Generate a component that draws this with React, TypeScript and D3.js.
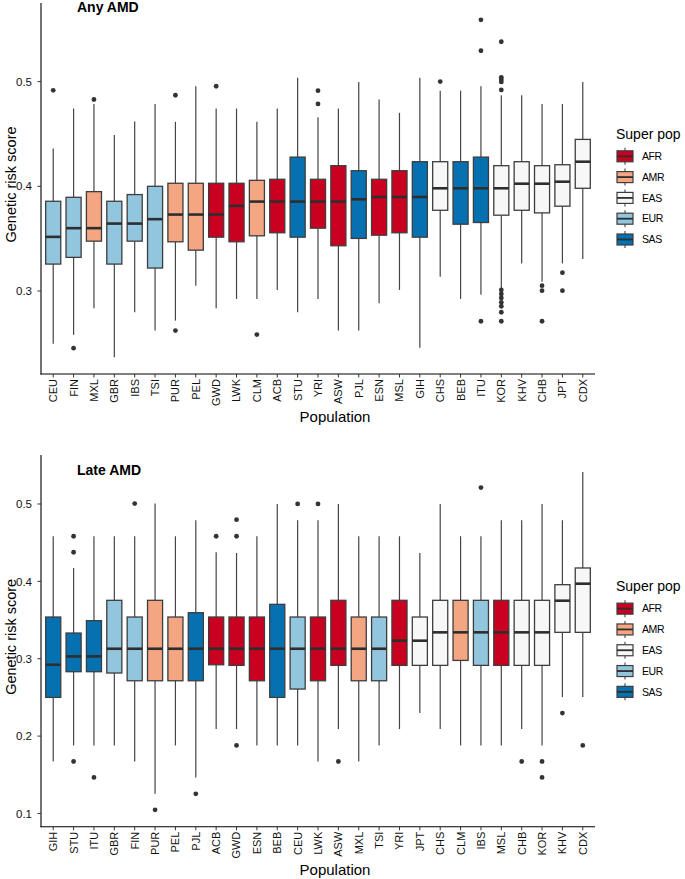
import React from "react";
import * as d3 from "d3";

// ---------- Data: Any AMD ----------
const anyCategories = ["CEU","FIN","MXL","GBR","IBS","TSI","PUR","PEL","GWD","LWK","CLM","ACB","STU","YRI","ASW","PJL","ESN","MSL","GIH","CHS","BEB","ITU","KOR","KHV","CHB","JPT","CDX"];
const anySuper = ["EUR","EUR","AMR","EUR","EUR","EUR","AMR","AMR","AFR","AFR","AMR","AFR","SAS","AFR","AFR","SAS","AFR","AFR","SAS","EAS","SAS","SAS","EAS","EAS","EAS","EAS","EAS"];
const anyLow = [0.2495,0.2581,0.2835,0.2368,0.2797,0.2622,0.2717,0.3051,0.2835,0.2924,0.2924,0.301,0.2797,0.2924,0.2622,0.2622,0.2883,0.301,0.2457,0.3137,0.2924,0.2965,0.3019,0.3263,0.3089,0.3263,0.3305];
const anyQ1 = [0.3257,0.3321,0.3476,0.3257,0.3476,0.3219,0.347,0.339,0.3514,0.347,0.3527,0.3556,0.3514,0.36,0.3432,0.3502,0.3533,0.3556,0.3514,0.3771,0.3638,0.3654,0.3724,0.3771,0.3746,0.381,0.3981];
const anyMed = [0.3517,0.36,0.36,0.3644,0.3644,0.3686,0.373,0.373,0.373,0.3813,0.3854,0.3854,0.3854,0.3854,0.3854,0.3876,0.3898,0.3898,0.3898,0.3981,0.3981,0.3981,0.3981,0.4025,0.4025,0.4044,0.4235];
const anyQ3 = [0.3857,0.3895,0.3949,0.3857,0.3921,0.4,0.4029,0.4029,0.4029,0.4029,0.4057,0.4067,0.4279,0.4067,0.4197,0.4149,0.4067,0.4149,0.4235,0.4235,0.4235,0.4279,0.4197,0.4235,0.4197,0.4206,0.4448];
const anyHigh = [0.4362,0.4743,0.4787,0.4489,0.4619,0.4787,0.4616,0.4956,0.4743,0.4743,0.4616,0.4743,0.5038,0.466,0.4743,0.4997,0.4829,0.4702,0.5038,0.4914,0.4914,0.4956,0.487,0.487,0.4787,0.4787,0.4997];
const anyOutliers = [[0.4917],[0.2454],[0.4829],[],[],[],[0.487,0.2622],[],[0.4956],[],[0.2584],[],[],[0.4914,0.4787],[],[],[],[],[],[0.5],[],[0.559,0.5295,0.2711],[0.5381,0.5041,0.5019,0.4997,0.4921,0.301,0.2971,0.2933,0.2892,0.2854,0.2797,0.2711],[],[0.3051,0.3003,0.2711],[0.3175,0.3003],[]];

// ---------- Data: Late AMD ----------
const lateCategories = ["GIH","STU","ITU","GBR","FIN","PUR","PEL","PJL","ACB","GWD","ESN","BEB","CEU","LWK","ASW","MXL","TSI","YRI","JPT","CHS","CLM","IBS","MSL","CHB","KOR","KHV","CDX"];
const lateSuper = ["SAS","SAS","SAS","EUR","EUR","AMR","AMR","SAS","AFR","AFR","AFR","SAS","EUR","AFR","AFR","AMR","EUR","AFR","EAS","EAS","AMR","EUR","AFR","EAS","EAS","EAS","EAS"];
const lateLow = [0.1672,0.1879,0.1879,0.1879,0.1672,0.1254,0.1879,0.1465,0.209,0.209,0.1879,0.1879,0.1879,0.1672,0.209,0.1672,0.1879,0.209,0.2297,0.209,0.1879,0.1879,0.1879,0.209,0.1879,0.2504,0.2504];
const lateQ1 = [0.25,0.2832,0.2832,0.2815,0.2715,0.2715,0.2715,0.2715,0.2922,0.2914,0.2715,0.25,0.2608,0.2715,0.2914,0.2715,0.2715,0.2914,0.2914,0.2914,0.2978,0.2914,0.2914,0.2914,0.2914,0.3341,0.3341];
const lateMed = [0.2922,0.303,0.303,0.3129,0.3129,0.3129,0.3129,0.3129,0.3129,0.3129,0.3129,0.3129,0.3129,0.3129,0.3129,0.3129,0.3129,0.3233,0.3233,0.3341,0.3341,0.3341,0.3341,0.3341,0.3341,0.375,0.397];
const lateQ3 = [0.3539,0.3332,0.3492,0.3755,0.3539,0.3755,0.3539,0.3595,0.3539,0.3539,0.3539,0.3703,0.3539,0.3539,0.3755,0.3539,0.3539,0.3755,0.3539,0.3755,0.3755,0.3755,0.3755,0.3755,0.3755,0.3957,0.4173];
const lateHigh = [0.4583,0.4173,0.4583,0.4583,0.4583,0.5005,0.4583,0.479,0.4376,0.4367,0.4583,0.5001,0.479,0.479,0.5001,0.4583,0.4583,0.4583,0.4367,0.5001,0.4583,0.4583,0.479,0.479,0.5001,0.479,0.5415];
const lateOutliers = [[],[0.4583,0.4376,0.1672],[0.1465],[],[0.5005],[0.1047],[],[0.1254],[0.4583],[0.4798,0.4583,0.1879],[],[],[0.5001],[0.5001],[0.1672],[],[],[],[],[],[],[0.5212],[],[0.1672],[0.1672,0.1465],[0.2297],[0.1879]];

// ---------- Legend / ticks ----------
const superPops = ["AFR","AMR","EAS","EUR","SAS"];
const superColors = ["#ca0020","#f4a582","#f7f7f7","#92c5de","#0571b0"];
const anyTicks = [0.3, 0.4, 0.5];
const lateTicks = [0.1, 0.2, 0.3, 0.4, 0.5];

const FONT = "'Liberation Sans', Arial, Helvetica, sans-serif";
const color = d3.scaleOrdinal<string, string>().domain(superPops).range(superColors);

type PanelProps = {
  title: string;
  cats: string[];
  sup: string[];
  low: number[];
  q1: number[];
  med: number[];
  q3: number[];
  high: number[];
  outs: number[][];
  ticks: number[];
  top: number;
  bottom: number;
  titleY: number;
};

const LEFT = 41;
const RIGHT = 595;

function Panel(p: PanelProps) {
  const all: number[] = [...p.low, ...p.high, ...p.outs.flat()];
  const mn = d3.min(all) as number;
  const mx = d3.max(all) as number;
  const pad = (mx - mn) * 0.05;
  const y = d3.scaleLinear().domain([mn - pad, mx + pad]).range([p.bottom, p.top]);
  const x = d3.scaleBand<string>().domain(p.cats).range([LEFT, RIGHT]).paddingOuter(0.1).paddingInner(0);
  const bw = x.step() * 0.74;
  const cx = (c: string) => (x(c) as number) + x.bandwidth() / 2;
  const center = (p.top + p.bottom) / 2;
  const boxStroke = "#3d3d3d";
  const whisk = "#444";
  return (
    <g>
      <text x={77} y={p.titleY} fontFamily={FONT} fontWeight="bold" fontSize={14} fill="#000">{p.title}</text>
      {p.cats.map((c, i) => {
        const xc = cx(c);
        return (
          <g key={c}>
            <line x1={xc} x2={xc} y1={y(p.high[i])} y2={y(p.q3[i])} stroke={whisk} strokeWidth={1.2} />
            <line x1={xc} x2={xc} y1={y(p.q1[i])} y2={y(p.low[i])} stroke={whisk} strokeWidth={1.2} />
            <rect x={xc - bw / 2} width={bw} y={y(p.q3[i])} height={y(p.q1[i]) - y(p.q3[i])} fill={color(p.sup[i])} stroke={boxStroke} strokeWidth={1.3} />
            <line x1={xc - bw / 2} x2={xc + bw / 2} y1={y(p.med[i])} y2={y(p.med[i])} stroke="#2e2e2e" strokeWidth={2.6} />
            {p.outs[i].map((o, j) => (
              <circle key={j} cx={xc} cy={y(o)} r={2.4} fill="#333" />
            ))}
          </g>
        );
      })}
      <line x1={LEFT} x2={LEFT} y1={p.top} y2={p.bottom + 0.5} stroke="#000" strokeWidth={1.1} />
      <line x1={LEFT - 0.5} x2={RIGHT} y1={p.bottom} y2={p.bottom} stroke="#000" strokeWidth={1.1} />
      {p.ticks.map((t) => (
        <g key={t}>
          <line x1={LEFT - 3.5} x2={LEFT} y1={y(t)} y2={y(t)} stroke="#333" strokeWidth={1} />
          <text x={32} y={y(t)} dy="0.36em" textAnchor="end" fontFamily={FONT} fontSize={11.5} fill="#111">{d3.format(".1f")(t)}</text>
        </g>
      ))}
      {p.cats.map((c) => {
        const xc = cx(c);
        return (
          <g key={"t" + c}>
            <line x1={xc} x2={xc} y1={p.bottom} y2={p.bottom + 3.5} stroke="#333" strokeWidth={1} />
            <text transform={`translate(${xc},${p.bottom + 5}) rotate(-90)`} dy="0.36em" textAnchor="end" fontFamily={FONT} fontSize={11} fill="#111">{c}</text>
          </g>
        );
      })}
      <text transform={`translate(16,${center - 4}) rotate(-90)`} textAnchor="middle" fontFamily={FONT} fontSize={14.5} fill="#000">Genetic risk score</text>
      <text x={335} y={p.bottom + 48} textAnchor="middle" fontFamily={FONT} fontSize={15} fill="#000">Population</text>
      <text x={616} y={center - 50} fontFamily={FONT} fontSize={14} fill="#000">Super pop</text>
      {superPops.map((s, i) => {
        const yc = center - 32.2 + i * 20.8;
        const kx = 617;
        const kw = 16;
        return (
          <g key={s}>
            <line x1={kx + kw / 2} x2={kx + kw / 2} y1={yc - 8.5} y2={yc + 8.5} stroke={whisk} strokeWidth={1.1} />
            <rect x={kx} y={yc - 5.5} width={kw} height={11} fill={color(s)} stroke={boxStroke} strokeWidth={1.2} />
            <line x1={kx} x2={kx + kw} y1={yc} y2={yc} stroke="#2e2e2e" strokeWidth={1.8} />
            <text x={642} y={yc} dy="0.36em" fontFamily={FONT} fontSize={10.5} letterSpacing={-0.4} fill="#000">{s}</text>
          </g>
        );
      })}
    </g>
  );
}

export default function App() {
  return (
    <svg width={685} height={879} style={{ position: "absolute", left: 0, top: 0, background: "#fff" }}>
      <rect x={0} y={0} width={685} height={879} fill="#fff" />
      <Panel title="Any AMD" cats={anyCategories} sup={anySuper} low={anyLow} q1={anyQ1} med={anyMed} q3={anyQ3} high={anyHigh} outs={anyOutliers} ticks={anyTicks} top={3} bottom={374} titleY={12} />
      <Panel title="Late AMD" cats={lateCategories} sup={lateSuper} low={lateLow} q1={lateQ1} med={lateMed} q3={lateQ3} high={lateHigh} outs={lateOutliers} ticks={lateTicks} top={455} bottom={826.7} titleY={475} />
    </svg>
  );
}
